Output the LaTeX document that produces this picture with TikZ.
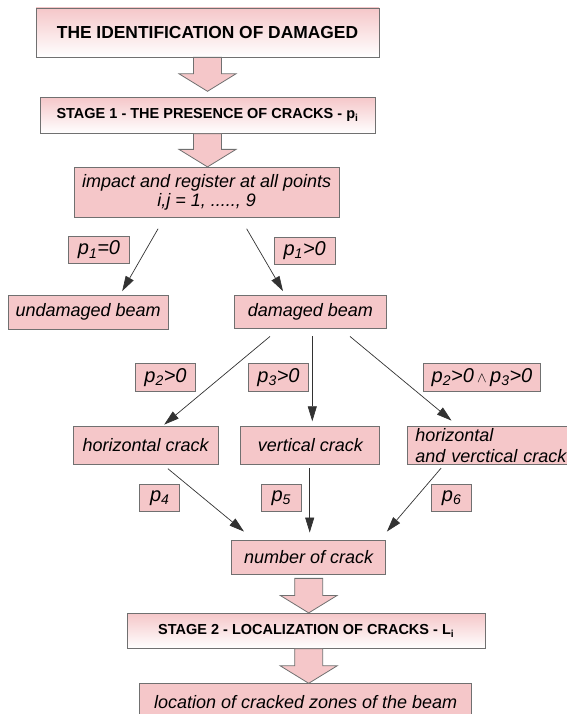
\documentclass[tikz,border=0pt]{standalone}
\usepackage{fontspec}
\setmainfont{Liberation Sans}
\usetikzlibrary{calc,arrows.meta}

\definecolor{boxpink}{RGB}{245,199,201}
\definecolor{boxline}{RGB}{112,112,112}
\definecolor{arrline}{RGB}{50,50,50}

% block arrow from one node down to the next
\newcommand{\bigarrow}[2]{%
  \draw[bigarr] let \p1=(#1), \p2=(#2) in
    (\x1-14pt,\y1) -- (\x1-14pt,\y2+17.5pt) -- (\x1-28.5pt,\y2+17.5pt) -- (\x1,\y2)
    -- (\x1+28.5pt,\y2+17.5pt) -- (\x1+14pt,\y2+17.5pt) -- (\x1+14pt,\y1) -- cycle;}

\begin{document}
\begin{tikzpicture}[x=1pt,y=-1pt,
  box/.style={draw=boxline, fill=boxpink, line width=0.8pt, inner sep=0pt,
    font=\itshape\fontsize{18}{19}\selectfont},
  stagebox/.style={draw=boxline, line width=0.8pt, top color=boxpink, bottom color=white,
    inner sep=0pt, font=\bfseries\fontsize{14.5}{17}\selectfont},
  cond/.style={box, font=\itshape\fontsize{20}{22}\selectfont},
  arr/.style={draw=arrline, line width=0.7pt, -{Triangle[length=15pt,width=9pt]}},
  bigarr/.style={draw=boxline, fill=boxpink, line width=0.8pt}]
  \useasboundingbox (0,0) rectangle (566,714);

  % stage 1
  \node[stagebox, minimum width=343pt, minimum height=49pt,
    font=\bfseries\fontsize{17.4}{20}\selectfont] (title) at (207.5,32.5) {THE IDENTIFICATION OF DAMAGED};
  \node[stagebox, minimum width=335pt, minimum height=36pt] (stage1) at (207.5,115.3)
    {STAGE 1 - THE PRESENCE OF CRACKS - p\textsubscript{i}};
  \node[box, minimum width=265pt, minimum height=50pt, align=center] (impact) at (206.7,192.3)
    {impact and register at all points\\ i,j = 1, ....., 9};

  \node[cond, minimum width=61pt, minimum height=27pt] (p1zero) at (99,250) {p\textsubscript{1}=0};
  \node[cond, minimum width=61pt, minimum height=27pt] (p1pos) at (304.7,250.5) {p\textsubscript{1}>0};

  \node[box, minimum width=160.5pt, minimum height=34pt] (undamaged) at (88.2,312) {undamaged beam};
  \node[box, minimum width=151.5pt, minimum height=33.3pt] (damaged) at (310.3,311.7) {damaged beam};

  \node[cond, minimum width=60pt, minimum height=28pt] (p2pos) at (165.5,377.5) {p\textsubscript{2}>0};
  \node[cond, minimum width=60pt, minimum height=28pt] (p3pos) at (278.5,377.5) {p\textsubscript{3}>0};
  \node[cond, minimum width=117.5pt, minimum height=28pt] (p23pos) at (482,377.3)
    {p\textsubscript{2}>0\,{\upshape$\scriptstyle\wedge$}\,p\textsubscript{3}>0};

  \node[box, minimum width=145.5pt, minimum height=37.6pt] (hcrack) at (145.7,445.5) {horizontal crack};
  \node[box, minimum width=139pt, minimum height=37.6pt] (vcrack) at (310.3,445.5) {vertical crack};
  \node[box, anchor=west, text width=160pt, inner xsep=7.7pt, minimum height=37.6pt, align=left,
    font=\itshape\fontsize{18}{20.5}\selectfont] (hvcrack) at (407.3,445.5) {horizontal\\and verctical crack};

  \node[cond, minimum width=40pt, minimum height=27.4pt] (p4) at (159.8,498) {p\textsubscript{4}};
  \node[cond, minimum width=40pt, minimum height=27.4pt] (p5) at (281.2,498) {p\textsubscript{5}};
  \node[cond, minimum width=40pt, minimum height=27.4pt] (p6) at (451.6,498) {p\textsubscript{6}};

  % stage 2
  \node[box, minimum width=154pt, minimum height=33.3pt] (number) at (308.7,557.3) {number of crack};
  \node[stagebox, minimum width=357.6pt, minimum height=35pt] (stage2) at (306.2,630.8)
    {STAGE 2 - LOCALIZATION OF CRACKS - L\textsubscript{i}};
  \node[box, anchor=north, minimum width=332pt, minimum height=36pt] (location) at (305.7,683.3)
    {location of cracked zones of the beam};

  \bigarrow{title.south}{[yshift=5.6pt]stage1.north}
  \bigarrow{stage1.south}{impact.north}
  \bigarrow{[yshift=-4pt]number.south}{stage2.north}
  \bigarrow{[xshift=2.5pt]stage2.south}{location.north}

  \draw[arr] ([xshift=-48.6pt,yshift=-11pt]impact.south) -- ([xshift=34pt,yshift=3.5pt]undamaged.north);
  \draw[arr] ([xshift=39.9pt,yshift=-11pt]impact.south) -- ([xshift=-27.3pt,yshift=3.5pt]damaged.north);

  \draw[arr] ([xshift=-40.3pt,yshift=-7.7pt]damaged.south) -- ([xshift=18.5pt,yshift=1.7pt]hcrack.north);
  \draw[arr] ([xshift=2pt,yshift=-7.7pt]damaged.south) -- ([xshift=2pt,yshift=5pt]vcrack.north);
  \draw[arr] ([xshift=39.7pt,yshift=-7.7pt]damaged.south) -- ([xshift=44.2pt,yshift=5.7pt]hvcrack.north west);

  \draw[arr] ([xshift=22.2pt,yshift=-4pt]hcrack.south) -- ([xshift=-64.7pt,yshift=8.7pt]number.north);
  \draw[arr] ([xshift=-0.6pt,yshift=-3.4pt]vcrack.south) -- ([xshift=1pt,yshift=7.7pt]number.north);
  \draw[arr] ([xshift=33.8pt,yshift=-3.4pt]hvcrack.south west) -- ([xshift=0.8pt,yshift=8.7pt]number.north east);
\end{tikzpicture}
\end{document}
